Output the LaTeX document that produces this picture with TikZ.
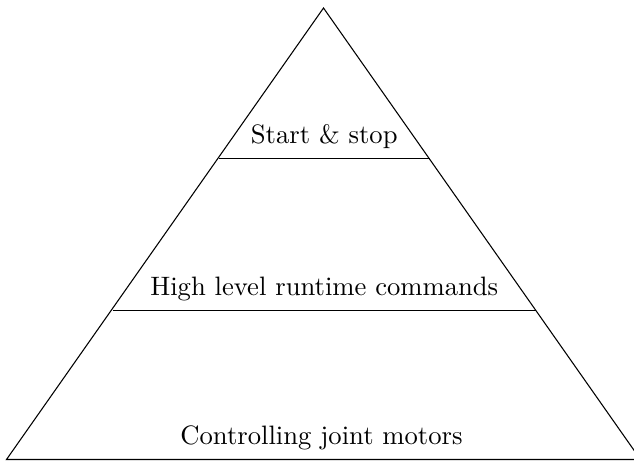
\documentclass[tikz,border=0pt]{standalone}
\usetikzlibrary{calc}
\begin{document}
\begin{tikzpicture}[x=0.3755pt,y=-0.3755pt,
  edge/.style={draw=black,line width=0.4pt},
  lbl/.style={anchor=south,inner sep=3.33pt,font=\normalsize}]
\useasboundingbox (0,0) rectangle (634,461);
\coordinate (apex) at (323.5,8);
\coordinate (bl) at (6.5,459.5);
\coordinate (br) at (640.5,459.5);
\coordinate (l1) at (218.5,158.5);
\coordinate (r1) at (430,158.5);
\coordinate (l2) at (112.5,310.5);
\coordinate (r2) at (536,310.5);
\coordinate (b3) at (321.5,459.5);
\draw[edge] (bl) -- (apex) -- (br) -- cycle;
\draw[edge] (l1) -- (r1);
\draw[edge] (l2) -- (r2);
\node[lbl] (t1) at ($(l1)!0.5!(r1)$) {Start \& stop};
\node[lbl] (t2) at ($(l2)!0.5!(r2)$) {High level runtime commands};
\node[lbl] (t3) at (b3) {Controlling joint motors};
\end{tikzpicture}
\end{document}
